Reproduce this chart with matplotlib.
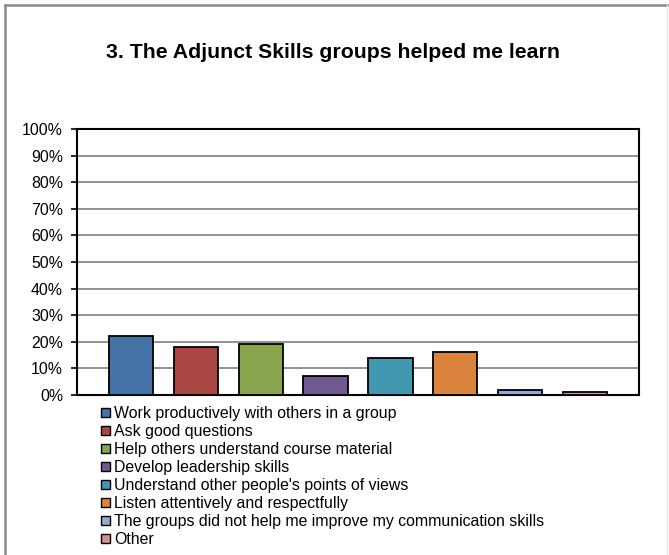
import matplotlib
matplotlib.use("Agg")
import matplotlib.pyplot as plt
from matplotlib.lines import Line2D

plt.rcParams['font.family'] = ['Liberation Sans', 'DejaVu Sans']

title = "3. The Adjunct Skills groups helped me learn"
categories = [
    "Work productively with others in a group",
    "Ask good questions",
    "Help others understand course material",
    "Develop leadership skills",
    "Understand other people's points of views",
    "Listen attentively and respectfully",
    "The groups did not help me improve my communication skills",
    "Other",
]
values = [22, 18, 19, 7, 14, 16, 2, 1]
colors = ["#4572A7", "#AA4643", "#89A54E", "#71588F",
          "#4198AF", "#DB843D", "#93A9CF", "#D19392"]
yticks = [0, 10, 20, 30, 40, 50, 60, 70, 80, 90, 100]
ytick_labels = [f"{v}%" for v in yticks]

W, H = 669, 555
fig = plt.figure(figsize=(W / 100, H / 100), dpi=100)
fig.patch.set_facecolor("white")

ax = fig.add_axes([77 / W, 1 - 395 / H, 562 / W, 266 / H])
for i, (lab, v, c) in enumerate(zip(categories, values, colors)):
    ax.bar(i, v, width=0.68, color=c, edgecolor="black", linewidth=1.3,
           label=lab, zorder=3)

ax.set_ylim(0, 100)
ax.set_xlim(-0.83, len(values) - 1 + 0.83)
ax.set_yticks(yticks)
ax.set_yticklabels(ytick_labels, fontsize=11.4)
ax.set_xticks([])
ax.yaxis.grid(True, color="#898989", linewidth=1.3, zorder=0)
ax.set_axisbelow(True)
ax.tick_params(axis="y", length=4, width=1.2, pad=6, color="black")
for s in ax.spines.values():
    s.set_color("black")
    s.set_linewidth(1.5)

fig.text(333 / W, 1 - 52 / H, title, ha="center", va="center",
         fontsize=15.3, fontweight="bold")

leg = fig.legend(loc="upper left", bbox_to_anchor=(101 / W, 1 - 406 / H),
                 frameon=False, fontsize=11.4, handlelength=0.56,
                 handleheight=0.56, handletextpad=0.25, labelspacing=0.19,
                 borderaxespad=0, borderpad=0)
for h in leg.legend_handles:
    h.set_linewidth(1.0)

# outer chart frame (gray)
fig.add_artist(Line2D([5 / W, 5 / W], [0, 1 - 5 / H], color="#8C8C8C", linewidth=1.8, transform=fig.transFigure))
fig.add_artist(Line2D([5 / W, 1], [1 - 5 / H, 1 - 5 / H], color="#8C8C8C", linewidth=1.8, transform=fig.transFigure))
fig.add_artist(Line2D([667 / W, 667 / W], [0, 1 - 5 / H], color="#E6E6E6", linewidth=1.0, transform=fig.transFigure))

fig.savefig("out.png", dpi=100)
